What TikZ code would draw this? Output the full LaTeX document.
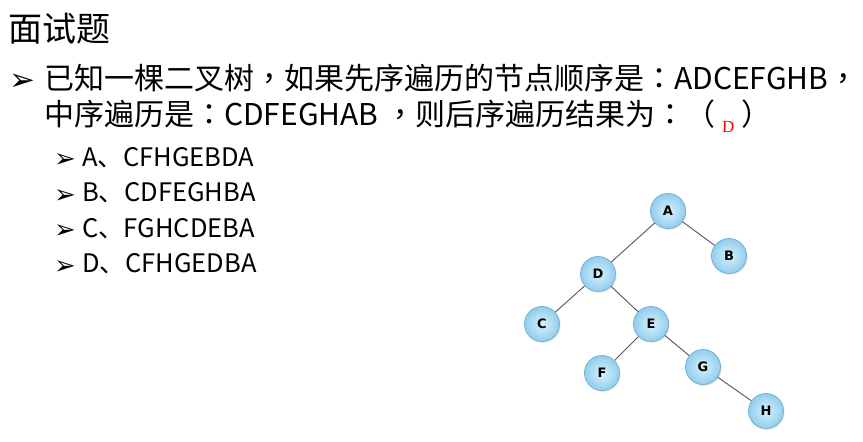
\documentclass[tikz,border=0pt]{standalone}
\usepackage{fontspec}
\setmainfont{Noto Sans CJK SC}
\newfontfamily\punctfont{Noto Sans CJK TC}
\newfontfamily\symfont{DejaVu Sans}
\newfontfamily\labfont{DejaVu Sans}
\newfontfamily\ansfont{Liberation Serif}
\newcommand{\cc}{{\punctfont ：}}
\newcommand{\cm}{{\punctfont ，}}
\usetikzlibrary{shadows}
\definecolor{nodein}{HTML}{D8F1FC}
\definecolor{nodeout}{HTML}{92CDEE}
\definecolor{nodeline}{HTML}{72B2D8}
\definecolor{edgegray}{HTML}{555555}

\begin{document}
\begin{tikzpicture}[x=1pt,y=-1pt,
    every node/.style={inner sep=0pt},
    txt/.style={anchor=base west,font=\fontsize{30}{30}\selectfont},
    opt/.style={anchor=base west,font=\fontsize{25.5}{25.5}\selectfont},
    bul/.style={anchor=base west,font=\symfont\fontsize{31}{31}\selectfont},
    smallbul/.style={anchor=base west,font=\symfont\fontsize{26}{26}\selectfont},
    vertex/.style={circle,draw=nodeline,line width=0.8pt,inner color=nodein,outer color=nodeout,
      minimum size=35pt,font=\labfont\bfseries\fontsize{13}{13}\selectfont,
      drop shadow={opacity=0.25,shadow xshift=1pt,shadow yshift=-1.2pt}},
    edge/.style={draw=edgegray,line width=0.9pt}]
  \useasboundingbox (0,0) rectangle (863,442);

  \node[anchor=base west,font=\fontsize{34}{34}\selectfont] (title) at (8,41) {面试题};

  \node[bul] (b0) at (9,90) {➢};
  \node[txt] (q1) at (44,89) {已知一棵二叉树\cm 如果先序遍历的节点顺序是\cc ADCEFGHB\cm};
  \node[txt] (q2) at (44,125) {中序遍历是\cc CDFEGHAB \cm 则后序遍历结果为\cc （ \raisebox{-7pt}{\ansfont\fontsize{17}{17}\selectfont\color{red}D} ）};

  \node[smallbul] (b1) at (54,167.5) {➢};
  \node[opt] (optA) at (82,166) {A、CFHGEBDA};
  \node[smallbul] (b2) at (54,203) {➢};
  \node[opt] (optB) at (82,201.5) {B、CDFEGHBA};
  \node[smallbul] (b3) at (54,238.5) {➢};
  \node[opt] (optC) at (82,237) {C、FGHCDEBA};
  \node[smallbul] (b4) at (54,274) {➢};
  \node[opt] (optD) at (82,272.5) {D、CFHGEDBA};

  \node[vertex] (A) at (668,211) {A};
  \node[vertex] (B) at (729,256) {B};
  \node[vertex] (D) at (598,274) {D};
  \node[vertex] (C) at (542,324) {C};
  \node[vertex] (E) at (651,324) {E};
  \node[vertex] (F) at (602,373) {F};
  \node[vertex] (G) at (703,367) {G};
  \node[vertex] (H) at (766,411) {H};

  \draw[edge] (A) -- (D);
  \draw[edge] (A) -- (B);
  \draw[edge] (D) -- (C);
  \draw[edge] (D) -- (E);
  \draw[edge] (E) -- (F);
  \draw[edge] (E) -- (G);
  \draw[edge] (G) -- (H);
\end{tikzpicture}
\end{document}
